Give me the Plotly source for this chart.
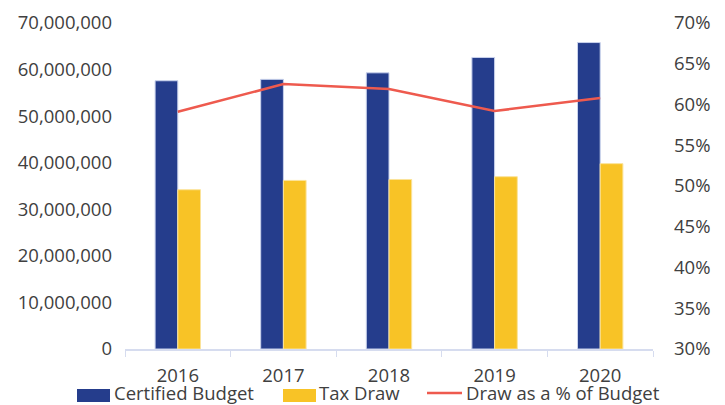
import plotly.graph_objects as go

years = ["2016", "2017", "2018", "2019", "2020"]
certified_budget = [57600000, 57900000, 59300000, 62600000, 65800000]
tax_draw = [34200000, 36200000, 36400000, 37000000, 39800000]
draw_pct = [0.591, 0.625, 0.619, 0.592, 0.608]
series_names = ["Certified Budget", "Tax Draw", "Draw as a % of Budget"]
colors = ["#253D8C", "#F8C326", "#EE5A4E"]

FS = 18.5
font = dict(family="Open Sans, Noto Sans, sans-serif", size=FS, color="#404040")

# page body has an 8px default margin, so the figure is offset by 8px
OFF = 8
W, H = 725 - OFF, 405 - OFF
L, T = 125 - OFF, 23 - OFF
R = W - (653 - OFF)
B = H - (349 - OFF)
PW, PH = W - L - R, H - T - B

def px(x):
    return (x - OFF - L) / PW

def py(y):
    return (H - B - (y - OFF)) / PH

fig = go.Figure()
fig.add_trace(go.Bar(x=years, y=certified_budget, name=series_names[0],
                     marker=dict(color=colors[0], line=dict(color="#c9d2ec", width=1))))
fig.add_trace(go.Bar(x=years, y=tax_draw, name=series_names[1],
                     marker=dict(color=colors[1], line=dict(color="#fbe39a", width=1))))
fig.add_trace(go.Scatter(x=years, y=draw_pct, name=series_names[2], mode="lines",
                         line=dict(color=colors[2], width=2.5), yaxis="y2"))

# custom legend (wide swatches like the reference)
LY = 392.5
shapes = [
    dict(type="rect", xref="paper", yref="paper", x0=px(77), x1=px(110), y0=py(402), y1=py(389),
         fillcolor=colors[0], line=dict(width=0)),
    dict(type="rect", xref="paper", yref="paper", x0=px(283), x1=px(316), y0=py(402), y1=py(389),
         fillcolor=colors[1], line=dict(width=0)),
    dict(type="line", xref="paper", yref="paper", x0=px(427), x1=px(462), y0=py(393), y1=py(393),
         line=dict(color=colors[2], width=2.5)),
]
annotations = [
    dict(xref="paper", yref="paper", x=px(112), y=py(LY), text=series_names[0], showarrow=False,
         xanchor="left", yanchor="middle", font=font),
    dict(xref="paper", yref="paper", x=px(317), y=py(LY), text=series_names[1], showarrow=False,
         xanchor="left", yanchor="middle", font=font),
    dict(xref="paper", yref="paper", x=px(464), y=py(LY), text=series_names[2], showarrow=False,
         xanchor="left", yanchor="middle", font=font),
]

fig.update_layout(
    width=W, height=H,
    margin=dict(l=L, r=R, t=T, b=B, autoexpand=False),
    paper_bgcolor="white", plot_bgcolor="white",
    font=font,
    barmode="group", bargap=0.57, bargroupgap=0,
    showlegend=False,
    shapes=shapes, annotations=annotations,
    xaxis=dict(showline=True, linecolor="#d6dcef", linewidth=1.5,
               ticks="outside", tickson="boundaries", ticklen=6, tickcolor="#d6dcef",
               showgrid=False, tickfont=font, ticklabelstandoff=9, automargin=False),
    yaxis=dict(range=[0, 70000000], dtick=10000000, tickformat=",d",
               showgrid=False, zeroline=False, showline=False, tickfont=font,
               ticks="", ticklabelstandoff=12, automargin=False),
    yaxis2=dict(range=[0.30, 0.70], dtick=0.05, tickformat=".0%", overlaying="y",
                side="right", showgrid=False, zeroline=False, showline=False,
                tickfont=font, ticklabelstandoff=20, automargin=False),
)

fig.write_html("out.html")
